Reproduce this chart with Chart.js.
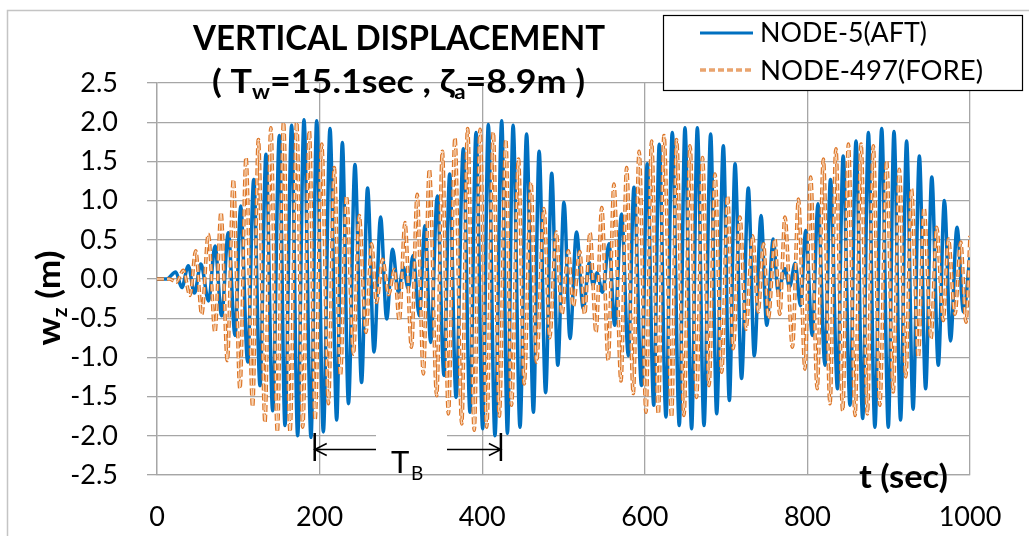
<!DOCTYPE html>
<html>
<head>
<meta charset="utf-8">
<script src="https://cdn.jsdelivr.net/npm/chart.js@4.4.1/dist/chart.umd.min.js"></script>
<style>
html,body{margin:0;padding:0;background:#fff;}
#wrap{width:1029px;height:536px;position:relative;}
</style>
</head>
<body>
<div id="wrap"><canvas id="c" width="1029" height="536"></canvas></div>
<script>
// ---- Data (peaks / troughs) ----
const aftTime = [0,12,23,30.5,38.5,46,54,63.5,71.3,79.5,87.7,96,103,111.5,119,126.7,134,142.3,150.5,157.4,165.6,173,180.8,189.4,196.4,204.6,212.8,221,228,235.5,243.5,251.6,259,267,275,282.5,289.8,296.8,303,309,315,322.6,329.6,336.6,344.8,353,360,367.8,376.8,385,392.4,400.6,407.5,415.7,424,431,438,446.5,454.6,463,470,478,485.5,493,500.6,508,516,524.4,531.7,536.5,541,548,556,563,571.5,579.7,586.7,596,603,611,617.8,626,633.8,642.4,649.4,657.6,664.6,672.8,681,688.4,696.6,704,711,719,727.3,734.7,743,750,758,764,772.4,778,785,791.5,798,806,813,821.6,828.4,837,844,852.4,859.8,868,875,883,891.4,899.5,906.5,914.6,922,930,937.7,945.4,953,961,968.5,976,984,992,1000];
const aftDisp = [0,0.00,0.09,-0.11,0.17,-0.18,0.19,-0.28,0.42,-0.47,0.59,-0.72,0.93,-1.06,1.27,-1.36,1.59,-1.68,1.83,-1.87,1.96,-2.00,2.03,-2.02,2.02,-1.95,1.92,-1.80,1.74,-1.59,1.46,-1.32,1.16,-0.93,0.79,-0.51,0.38,-0.17,0.15,-0.12,0.30,-0.47,0.68,-0.81,1.06,-1.23,1.34,-1.51,1.66,-1.70,1.87,-1.91,1.97,-2.00,2.02,-1.97,1.96,-1.89,1.85,-1.70,1.63,-1.45,1.35,-1.10,0.98,-0.76,0.60,-0.38,0.21,-0.08,0.08,-0.17,0.45,-0.59,0.83,-0.98,1.17,-1.36,1.47,-1.61,1.72,-1.76,1.87,-1.87,1.93,-1.91,1.93,-1.87,1.85,-1.72,1.70,-1.55,1.47,-1.27,1.16,-0.98,0.81,-0.59,0.51,-0.17,0.13,-0.10,0.20,-0.34,0.62,-0.72,0.96,-1.10,1.27,-1.40,1.57,-1.61,1.76,-1.78,1.87,-1.89,1.92,-1.89,1.88,-1.80,1.76,-1.66,1.57,-1.40,1.30,-1.10,1.00,-0.79,0.66,-0.42,0.30];

const foreTime = [0,15,24,32.4,40.6,47.6,55,63.2,71.3,78.7,86.5,93.9,102,109.5,117.6,124.7,132.8,140,148,155.6,163.6,171.8,179.2,187.4,194.4,202.6,210.8,218,225.6,233,241.6,248.7,257,264,270,277.5,285,292,298,305,313,320,327.6,335,344,351,358.4,366.5,374.8,382,390.2,397.3,405.5,413.6,421,429,436,444.6,451.6,460,466.8,476,483,491,498,506,512,520,526,532.6,540,547,555,562,570.7,577.6,585.8,593,601.5,608.3,616.6,623.6,633,639,648.2,655.6,663.7,671,679,686.3,694.6,701.8,708.7,717,724.4,732.6,739.5,746,752,760,766,772.4,781.6,789,797,804,812,819.6,827.8,835,843.4,850.4,858.6,866,873.7,881,889,897.4,905.5,913,921,928,936.4,943.4,952,959,967,973.4,981.5,988.6,995,1000];
const foreDisp = [0,0.00,-0.04,0.11,-0.21,0.36,-0.45,0.57,-0.68,0.85,-1.04,1.27,-1.40,1.55,-1.63,1.78,-1.83,1.93,-1.95,2.00,-1.95,2.00,-1.89,1.89,-1.80,1.72,-1.59,1.42,-1.23,1.06,-0.96,0.81,-0.68,0.45,-0.30,0.25,-0.20,0.12,-0.53,0.72,-0.87,1.08,-1.21,1.40,-1.49,1.63,-1.72,1.80,-1.85,1.92,-1.93,1.91,-1.89,1.87,-1.75,1.78,-1.61,1.53,-1.34,1.23,-1.06,0.90,-0.75,0.60,-0.45,0.36,-0.35,0.35,-0.45,0.59,-0.68,0.91,-1.04,1.21,-1.30,1.42,-1.46,1.63,-1.70,1.76,-1.72,1.83,-1.76,1.78,-1.74,1.70,-1.51,1.55,-1.36,1.34,-1.19,1.06,-0.89,0.79,-0.64,0.55,-0.42,0.45,-0.50,0.51,-0.45,0.79,-0.87,1.02,-1.15,1.30,-1.40,1.53,-1.59,1.66,-1.68,1.72,-1.74,1.72,-1.72,1.70,-1.61,1.51,-1.44,1.40,-1.25,1.15,-1.00,0.91,-0.76,0.66,-0.53,0.51,-0.45,0.47,-0.55,0.55];

const xTicks = [0,200,400,600,800,1000];
const yTicks = [-2.5,-2.0,-1.5,-1.0,-0.5,0.0,0.5,1.0,1.5,2.0,2.5];
const seriesNames = ['NODE-5(AFT)','NODE-497(FORE)'];

// ---- styles ----
const FONT = 'Lato, "Open Sans", "DejaVu Sans", sans-serif';
const BLUE = '#0070C0';
const ORANGE_EDGE = '#DC7426';
const ORANGE_FILL = '#F7D3B3';
const GRID = '#A6A6A6';
const DASH = [7,3];

const aftPts = aftTime.map((t,i)=>({x:t,y:aftDisp[i]}));
const forePts = foreTime.map((t,i)=>({x:t,y:foreDisp[i]}));

function richWidth(ctx, segs){
  let w=0;
  for(const s of segs){ctx.font=s.f; w+=ctx.measureText(s.t).width;}
  return w;
}
function drawRich(ctx, segs, x, y, align, targetW){
  const w = richWidth(ctx, segs);
  const sc = targetW ? targetW/w : 1;
  ctx.save();
  let x0 = align==='center' ? x - w*sc/2 : x;
  ctx.translate(x0, y);
  ctx.scale(sc,1);
  ctx.textAlign='left'; ctx.textBaseline='alphabetic';
  let cx=0;
  for(const s of segs){
    ctx.font=s.f;
    ctx.fillText(s.t, cx, s.dy||0);
    cx += ctx.measureText(s.t).width;
  }
  ctx.restore();
}

const deco = {
  id:'deco',
  beforeDraw(chart){
    const ctx = chart.ctx;
    ctx.save();
    ctx.fillStyle='#fff';
    ctx.fillRect(0,0,chart.width,chart.height);
    ctx.strokeStyle='#C4C4C4';
    ctx.lineWidth=1.5;
    ctx.beginPath();
    ctx.moveTo(7.5,536); ctx.lineTo(7.5,10.5); ctx.lineTo(1029,10.5);
    ctx.stroke();
    ctx.restore();
  },
  afterDatasetsDraw(chart){
    const ctx = chart.ctx;
    const xs = chart.scales.x;
    ctx.save();
    // T_B annotation
    ctx.fillStyle='#fff';
    ctx.fillRect(376,429,71,40);
    const xa = xs.getPixelForValue(194), xb = xs.getPixelForValue(423);
    const ya = 449.5;
    ctx.strokeStyle='#000';
    ctx.lineWidth=1.5;
    ctx.beginPath();
    ctx.moveTo(xa,ya); ctx.lineTo(376,ya);
    ctx.moveTo(447,ya); ctx.lineTo(xb,ya);
    ctx.moveTo(xa+12,ya-6); ctx.lineTo(xa,ya); ctx.lineTo(xa+12,ya+6);
    ctx.moveTo(xb-12,ya-6); ctx.lineTo(xb,ya); ctx.lineTo(xb-12,ya+6);
    ctx.stroke();
    ctx.lineWidth=2.5;
    ctx.beginPath();
    ctx.moveTo(xa,433); ctx.lineTo(xa,461);
    ctx.moveTo(xb,433); ctx.lineTo(xb,461);
    ctx.stroke();
    ctx.fillStyle='#000';
    ctx.textBaseline='alphabetic'; ctx.textAlign='left';
    ctx.font='31px '+FONT;
    ctx.fillText('T',391,473);
    ctx.font='19px '+FONT;
    ctx.fillText('B',411,480);
    ctx.restore();
  },
  afterDraw(chart){
    const ctx = chart.ctx;
    ctx.save();
    ctx.fillStyle='#000';
    // Title
    ctx.textAlign='center'; ctx.textBaseline='alphabetic';
    ctx.font='bold 35px '+FONT;
    ctx.fillText('VERTICAL DISPLACEMENT', 399, 50, 412);
    // Subtitle with subscripts
    const B = (n)=>'bold '+n+'px '+FONT;
    drawRich(ctx,[
      {t:'( T',f:B(32)},{t:'w',f:B(20),dy:6},{t:'=15.1sec , ζ',f:B(32)},{t:'a',f:B(20),dy:6},{t:'=8.9m )',f:B(32)}
    ], 212, 93, 'left', 373);
    // x-axis title
    drawRich(ctx,[{t:'t (sec)',f:B(32)}], 859, 488, 'left', 89);
    // y-axis title (rotated)
    ctx.save();
    ctx.translate(60, 298);
    ctx.rotate(-Math.PI/2);
    drawRich(ctx,[{t:'w',f:B(33)},{t:'z',f:B(20),dy:7},{t:' (m)',f:B(33)}], 0, 0, 'center', 95);
    ctx.restore();
    // Legend box
    ctx.fillStyle='#fff';
    ctx.fillRect(663,15,360,75);
    ctx.strokeStyle='#000';
    ctx.lineWidth=1.2;
    ctx.strokeRect(663.5,15.5,359,75);
    // blue sample
    ctx.strokeStyle=BLUE; ctx.lineWidth=3;
    ctx.beginPath(); ctx.moveTo(700,33); ctx.lineTo(753,33); ctx.stroke();
    // orange sample (hollow dashes)
    ctx.setLineDash([6,3]);
    ctx.strokeStyle=ORANGE_EDGE; ctx.lineWidth=3.2;
    ctx.beginPath(); ctx.moveTo(700,70); ctx.lineTo(753,70); ctx.stroke();
    ctx.strokeStyle=ORANGE_FILL; ctx.lineWidth=1.2;
    ctx.beginPath(); ctx.moveTo(700,70); ctx.lineTo(753,70); ctx.stroke();
    ctx.setLineDash([]);
    ctx.fillStyle='#000';
    drawRich(ctx,[{t:seriesNames[0],f:'27px '+FONT}], 760, 42, 'left', 167);
    drawRich(ctx,[{t:seriesNames[1],f:'27px '+FONT}], 760, 80, 'left', 223);
    ctx.restore();
  }
};

new Chart(document.getElementById('c'), {
  type:'line',
  data:{
    datasets:[
      {label:seriesNames[1]+' fill', data:forePts, borderColor:ORANGE_FILL, borderWidth:1.3,
       borderDash:DASH, pointRadius:0, cubicInterpolationMode:'monotone', order:0},
      {label:seriesNames[1], data:forePts, borderColor:ORANGE_EDGE, borderWidth:3.6,
       borderDash:DASH, pointRadius:0, cubicInterpolationMode:'monotone', order:1},
      {label:seriesNames[0], data:aftPts, borderColor:BLUE, borderWidth:3.5,
       borderJoinStyle:'round', borderCapStyle:'round',
       pointRadius:0, cubicInterpolationMode:'monotone', order:2}
    ]
  },
  options:{
    responsive:false,
    animation:false,
    events:[],
    layout:{padding:{left:0,right:59,top:83,bottom:0}},
    plugins:{legend:{display:false},title:{display:false},tooltip:{enabled:false}},
    scales:{
      x:{
        type:'linear', min:0, max:1000,
        afterBuildTicks:(s)=>{s.ticks = xTicks.map(v=>({value:v}));},
        afterFit:(s)=>{s.height=61;},
        ticks:{font:{family:FONT,size:27},color:'#000',padding:26,maxRotation:0,autoSkip:false,
               callback:(v)=>String(v)},
        grid:{color:GRID,lineWidth:1.3,drawTicks:false},
        border:{color:GRID,width:1.3}
      },
      y:{
        type:'linear', min:-2.5, max:2.5,
        afterBuildTicks:(s)=>{s.ticks = yTicks.map(v=>({value:v}));},
        afterFit:(s)=>{s.width=157;},
        ticks:{font:{family:FONT,size:27},color:'#000',padding:29,autoSkip:false,
               callback:(v)=>Number(v).toFixed(1)},
        grid:{color:GRID,lineWidth:1.3,drawTicks:true,tickLength:10},
        border:{color:GRID,width:1.3}
      }
    }
  },
  plugins:[deco]
});
</script>
</body>
</html>
